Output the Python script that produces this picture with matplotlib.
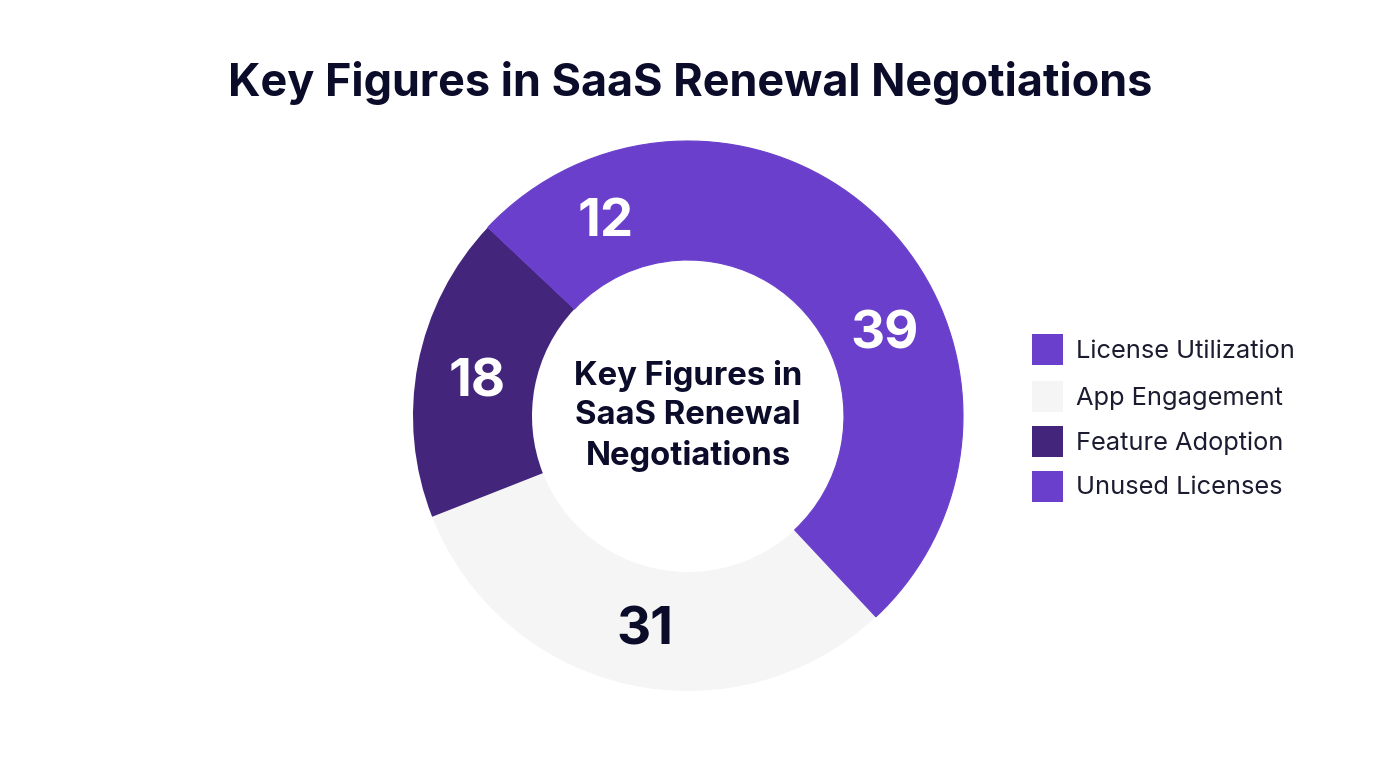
import matplotlib
matplotlib.use("Agg")
from matplotlib import pyplot as plt
from matplotlib.patches import Rectangle

labels = ["License Utilization", "App Engagement", "Feature Adoption", "Unused Licenses"]
values = [39, 31, 18, 12]
colors = ["#6a3fcb", "#f5f5f6", "#43267c", "#6a3fcb"]
title = "Key Figures in SaaS Renewal Negotiations"
center_text = "Key Figures in\nSaaS Renewal\nNegotiations"
dark = "#0b0b2a"

plt.rcParams['font.family'] = ['Inter', 'DejaVu Sans']

W, H = 1376, 768
fig = plt.figure(figsize=(W / 100, H / 100), dpi=100, facecolor="white")

# pie axes: centre 688,416 radius 275 px
R = 275
ax = fig.add_axes([(688 - R) / W, 1 - (416 + R) / H, 2 * R / W, 2 * R / H])
wedges, _ = ax.pie(values, colors=colors, startangle=93.5, counterclock=False,
                   radius=1, wedgeprops=dict(width=1 - 156 / 275, linewidth=0))
ax.set_xlim(-1, 1)
ax.set_ylim(-1, 1)
# hide the seam between the two same-coloured wedges
wedges[0].set_edgecolor(colors[0])
wedges[0].set_linewidth(0.8)
wedges[3].set_edgecolor(colors[3])
wedges[3].set_linewidth(0.8)
wedges[0].set_zorder(3)
wedges[3].set_zorder(3)

# value labels sit where the reference has them, not quite mid-ring
label_pos = [(885, 335), (645, 631), (477, 383), (606, 223)]
for v, (px, py), c in zip(values, label_pos, ["white", dark, "white", "white"]):
    fig.text(px / W, 1 - py / H, str(v), color=c, fontsize=38, fontweight="bold",
             ha="center", va="center")

fig.text(690 / W, 1 - 83 / H, title, color=dark, fontsize=32.4, fontweight="bold",
         ha="center", va="center")
fig.text(688 / W, 1 - 416 / H, center_text, color=dark, fontsize=23.7, fontweight="bold",
         ha="center", va="center", linespacing=1.35)

# legend by hand
legend_y = [352, 398, 443, 488]
swatch_y = [350, 396, 441, 486]
for lab, c, y, sy in zip(labels, colors, legend_y, swatch_y):
    fig.add_artist(Rectangle((1032 / W, 1 - (sy + 15.5) / H), 31 / W, 31 / H,
                             transform=fig.transFigure, facecolor=c, edgecolor="none"))
    fig.text(1076 / W, 1 - y / H, lab, color="#1c1c30", fontsize=18.3, ha="left", va="center")

fig.savefig("out.png", dpi=100)
